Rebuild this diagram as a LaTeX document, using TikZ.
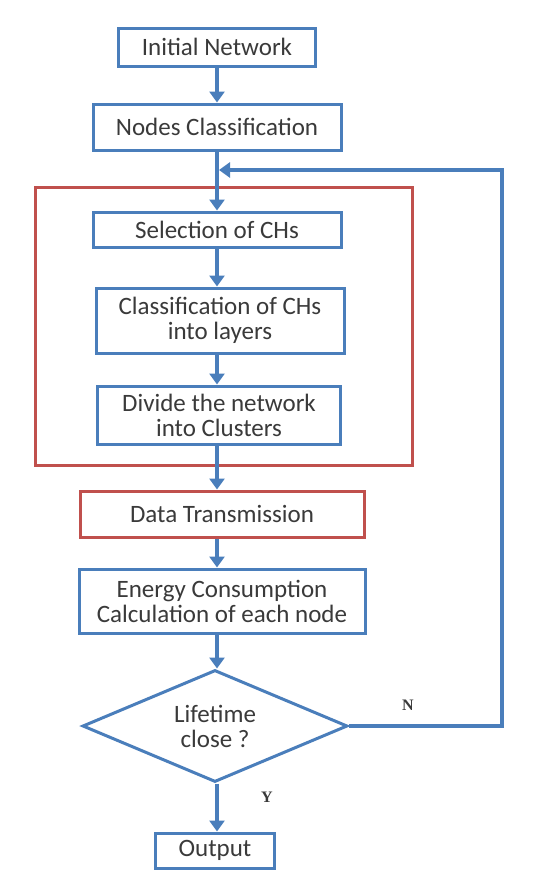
\documentclass[tikz,border=0pt]{standalone}
\usepackage{fontspec}
\setmainfont{Carlito}
\newfontfamily\ynfont{Liberation Serif}
\usetikzlibrary{arrows.meta,shapes.geometric}
\definecolor{flowblue}{RGB}{74,126,187}
\definecolor{flowred}{RGB}{192,80,77}
\definecolor{flowtext}{RGB}{58,58,58}

\begin{document}
\begin{tikzpicture}[x=1pt,y=-1pt,
  stepbox/.style={draw=flowblue,line width=3pt,fill=white,text=flowtext,font=\fontsize{25}{25}\selectfont,align=center,inner sep=0pt},
  redbox/.style={stepbox,draw=flowred},
  decision/.style={stepbox,shape=diamond,aspect=2.37},
  flow/.style={flowblue,line width=4pt,-{Triangle[width=15pt,length=11pt]}},
  yn/.style={text=flowtext,font=\ynfont\bfseries\fontsize{16}{18}\selectfont}]
\useasboundingbox (0,0) rectangle (533,870);
\draw[flowred,line width=3pt] (35,187) rectangle (412,465);
\node[stepbox,minimum width=197pt,minimum height=38pt] (init) at (217,47) {Initial Network};
\node[stepbox,minimum width=248pt,minimum height=46pt] (ncls) at (217,127) {Nodes Classification};
\node[stepbox,minimum width=248pt,minimum height=35pt] (sel) at (217,229.5) {Selection of CHs};
\node[stepbox,minimum width=248pt,minimum height=65pt] (layers) at (220,320.5) {Classification of CHs\\into layers};
\node[stepbox,minimum width=243pt,minimum height=58pt] (divide) at (219,415) {Divide the network\\into Clusters};
\node[redbox,minimum width=284pt,minimum height=46pt] (data) at (222,514) {Data Transmission};
\node[stepbox,minimum width=286pt,minimum height=64pt] (energy) at (222,601) {Energy Consumption\\Calculation of each node};
\node[decision,minimum width=265pt,minimum height=112pt] (dec) at (215,726) {Lifetime\\close ?};
\node[stepbox,minimum width=119pt,minimum height=35pt] (out) at (215,850.5) {Output};
\coordinate (loop) at (219,170);
\node[yn] (no) at (408,705) {N};
\node[yn] (yes) at (267,797) {Y};
\draw[flow] (init.south -| 217,0) -- (ncls.north -| 217,0);
\draw[flow] (ncls.south -| 217,0) -- (sel.north -| 217,0);
\draw[flow] (sel.south -| 217,0) -- (layers.north -| 217,0);
\draw[flow] (layers.south -| 217,0) -- (divide.north -| 217,0);
\draw[flow] (divide.south -| 217,0) -- (data.north -| 217,0);
\draw[flow] (data.south -| 217,0) -- (energy.north -| 217,0);
\draw[flow] (energy.south -| 217,0) -- (dec.north -| 217,0);
\draw[flow] (dec.south -| 217,0) -- (out.north -| 217,0);
\draw[flow] (dec.east) -- (502,726) -- (502,170) -- (loop);
\end{tikzpicture}
\end{document}
